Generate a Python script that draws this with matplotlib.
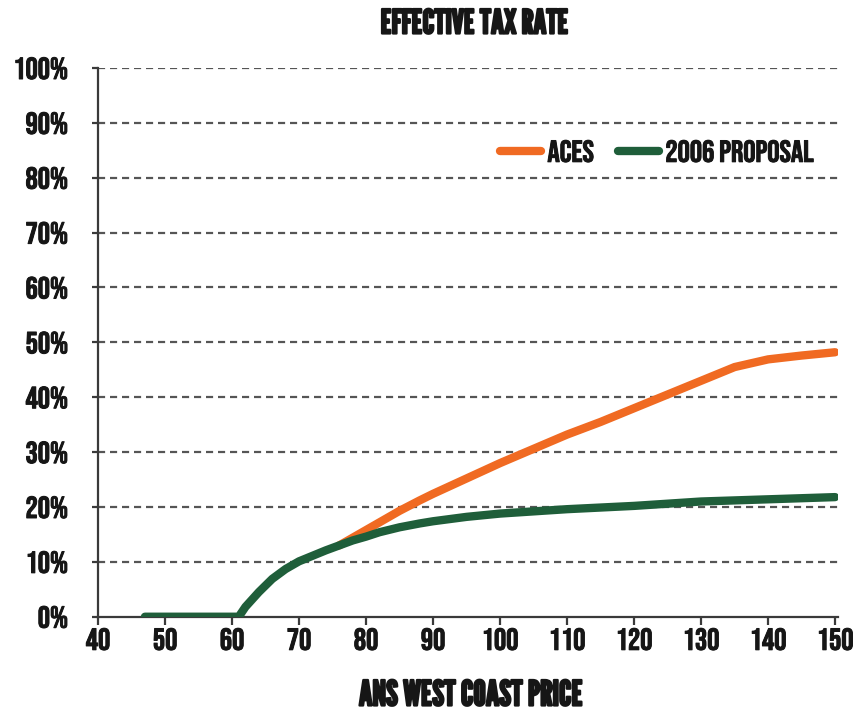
import matplotlib
matplotlib.use("Agg")
import matplotlib.pyplot as plt
import matplotlib.patheffects as pe
from matplotlib.lines import Line2D
from matplotlib.ticker import FuncFormatter

# ANS West Coast price ($/bbl) and effective tax rate (%)
price_green = [47, 50, 55, 60, 61, 62, 64, 66, 68, 70, 72, 74, 76, 78, 80, 82, 85, 88,
               90, 95, 100, 105, 110, 115, 120, 125, 130, 135, 140, 145, 150]
rate_2006 = [0, 0, 0, 0, 0, 1.8, 4.5, 6.9, 8.7, 10.1, 11.1, 12.1, 13.0, 13.9, 14.6, 15.4,
             16.3, 17.0, 17.4, 18.2, 18.8, 19.2, 19.6, 19.9, 20.2, 20.6, 21.0, 21.2, 21.4,
             21.6, 21.8]

price_aces = [76, 78, 80, 82, 85, 88, 90, 95, 100, 105, 110, 115, 120, 125, 130, 135,
              140, 145, 150]
rate_aces = [13.0, 14.4, 15.8, 17.2, 19.3, 21.2, 22.4, 25.2, 28.0, 30.6, 33.2, 35.5, 38.0,
             40.5, 43.0, 45.5, 46.9, 47.6, 48.2]

x_ticks = [40, 50, 60, 70, 80, 90, 100, 110, 120, 130, 140, 150]
y_ticks = [0, 10, 20, 30, 40, 50, 60, 70, 80, 90, 100]

title = "EFFECTIVE TAX RATE"
x_label = "ANS WEST COAST PRICE"
series_names = ["ACES", "2006 PROPOSAL"]

ORANGE = "#F06A22"
GREEN = "#1F5E3A"
INK = "#161616"
AXIS = "#3A3A3A"
GRID = "#555555"

LABEL_FONT = ["Bebas Neue", "DejaVu Sans"]
HEAD_FONT = ["League Gothic", "DejaVu Sans"]
plt.rcParams["font.family"] = LABEL_FONT

# slight outline to give the condensed faces a heavier weight
label_weight = [pe.withStroke(linewidth=0.7, foreground=INK)]
head_weight = [pe.withStroke(linewidth=1.6, foreground=INK)]

fig = plt.figure(figsize=(8.57, 7.12), dpi=100)
ax = fig.add_axes([0.1144, 0.1338, 0.864, 0.7707])

ax.set_xlim(40, 150.5)
ax.set_ylim(0, 100)

for y in y_ticks[1:]:
    ax.axhline(y, color=GRID, lw=1.6, ls=(0, (3.2, 2.2)), zorder=1)

ax.plot(price_aces, rate_aces, color=ORANGE, lw=6, solid_capstyle="round",
        solid_joinstyle="round", zorder=3)
ax.plot(price_green, rate_2006, color=GREEN, lw=6, solid_capstyle="round",
        solid_joinstyle="round", zorder=4)

for side in ("top", "right"):
    ax.spines[side].set_visible(False)
for side in ("left", "bottom"):
    ax.spines[side].set_color(AXIS)
    ax.spines[side].set_linewidth(1.6)

ax.set_xticks(x_ticks)
ax.set_yticks(y_ticks)
ax.yaxis.set_major_formatter(FuncFormatter(lambda v, p: f"{int(v)}%"))
ax.tick_params(axis="both", direction="out", width=1.6, color=AXIS,
               labelcolor=INK, labelsize=22)
ax.tick_params(axis="x", length=6, pad=2)
ax.tick_params(axis="y", length=4.5, pad=17)
for lab in ax.get_xticklabels() + ax.get_yticklabels():
    lab.set_path_effects(label_weight)

fig.text(475 / 857, 1 - 24 / 712, title, family=HEAD_FONT, fontsize=24,
         color=INK, ha="center", va="center", path_effects=head_weight)
fig.text(471 / 857, 1 - 696 / 712, x_label, family=HEAD_FONT, fontsize=25,
         color=INK, ha="center", va="center", path_effects=head_weight)

handles = [Line2D([0], [0], color=ORANGE, lw=6, solid_capstyle="round"),
           Line2D([0], [0], color=GREEN, lw=6, solid_capstyle="round")]
leg = ax.legend(handles, series_names, loc="center left", bbox_to_anchor=(0.543, 0.849),
                ncol=2, frameon=False, borderaxespad=0, borderpad=0,
                handlelength=1.35, handletextpad=0.2, columnspacing=0.8,
                prop={"family": LABEL_FONT, "size": 22})
for t in leg.get_texts():
    t.set_color(INK)
    t.set_path_effects(label_weight)

fig.savefig("out.png", dpi=100, facecolor="white")
